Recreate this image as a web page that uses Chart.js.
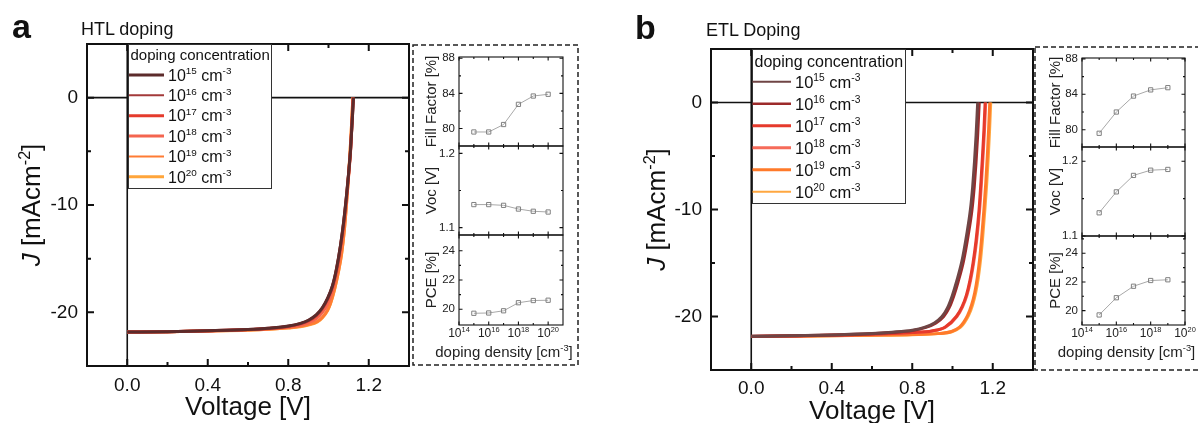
<!DOCTYPE html>
<html lang="en">
<head>
<meta charset="UTF-8">
<title>HTL / ETL doping J-V curves</title>
<script src="https://cdn.jsdelivr.net/npm/chart.js"></script>
<style>
  body { margin: 0; background: #fff; }
  #fig { position: relative; width: 1198px; height: 423px; overflow: hidden; background: #fff; }
  #fig canvas { position: absolute; }
  .letter { position: absolute; font: bold 34px 'Liberation Sans', Arial, sans-serif; line-height: 34px; color: #111; }
  .head { position: absolute; font: 18px 'Liberation Sans', Arial, sans-serif; line-height: 18px; color: #111; white-space: nowrap; }
</style>
</head>
<body>
<div id="fig">
  <canvas id="jvHtl" width="420" height="423" style="left:0;top:0"></canvas>
  <canvas id="ffHtl" width="170" height="325" style="left:411px;top:43px"></canvas>
  <canvas id="vocHtl" width="170" height="325" style="left:411px;top:43px"></canvas>
  <canvas id="pceHtl" width="170" height="325" style="left:411px;top:43px"></canvas>

  <canvas id="jvEtl" width="420" height="427" style="left:620px;top:0"></canvas>
  <canvas id="ffEtl" width="166" height="328" style="left:1032px;top:45px"></canvas>
  <canvas id="vocEtl" width="166" height="328" style="left:1032px;top:45px"></canvas>
  <canvas id="pceEtl" width="166" height="328" style="left:1032px;top:45px"></canvas>

  <div class="letter" style="left:12px;top:9px">a</div>
  <div class="head" style="left:81px;top:20px">HTL doping</div>
  <div class="letter" style="left:635px;top:10px">b</div>
  <div class="head" style="left:706px;top:21px">ETL Doping</div>
</div>

<script>
// doping levels (exponent of cm^-3)
const dopingExp = [15, 16, 17, 18, 19, 20];

// axis ticks of the J-V plots
const voltTicks = [0, 0.4, 0.8, 1.2];
const voltMinor = [0.2, 0.6, 1.0];
const currentTicks = [0, -10, -20];
const currentMinor = [-5, -15];

// J-V curves, HTL doping: [voltage V, current density mA/cm2]
const htl15 = [[0,-21.84],[0.2,-21.8],[0.4,-21.72],[0.6,-21.6],[0.7,-21.48],[0.8,-21.28],[0.86,-21.03],[0.9,-20.74],[0.94,-20.22],[0.97,-19.55],[0.995,-18.7],[1.02,-17.5],[1.04,-15.9],[1.06,-13.7],[1.075,-11.6],[1.09,-9.0],[1.1,-7.0],[1.11,-4.7],[1.124,0]];
const htl16 = [[0,-21.84],[0.2,-21.8],[0.4,-21.72],[0.6,-21.61],[0.7,-21.49],[0.8,-21.29],[0.86,-21.05],[0.9,-20.76],[0.94,-20.25],[0.97,-19.58],[0.995,-18.74],[1.02,-17.55],[1.04,-15.95],[1.06,-13.75],[1.075,-11.65],[1.09,-9.05],[1.1,-7.05],[1.11,-4.75],[1.124,0]];
const htl17 = [[0,-21.84],[0.2,-21.8],[0.4,-21.72],[0.6,-21.61],[0.7,-21.5],[0.8,-21.31],[0.86,-21.08],[0.9,-20.8],[0.94,-20.3],[0.97,-19.64],[0.995,-18.82],[1.02,-17.62],[1.04,-16.05],[1.06,-13.85],[1.075,-11.75],[1.09,-9.15],[1.1,-7.1],[1.11,-4.8],[1.123,0]];
const htl18 = [[0,-21.84],[0.2,-21.8],[0.4,-21.73],[0.6,-21.63],[0.7,-21.53],[0.8,-21.37],[0.86,-21.2],[0.9,-20.97],[0.94,-20.58],[0.97,-20.0],[0.995,-19.25],[1.02,-17.95],[1.04,-16.4],[1.06,-14.2],[1.075,-12.1],[1.09,-9.4],[1.1,-7.3],[1.11,-4.9],[1.122,0]];
const htl19 = [[0,-21.84],[0.2,-21.8],[0.4,-21.74],[0.6,-21.65],[0.7,-21.57],[0.8,-21.44],[0.86,-21.31],[0.9,-21.14],[0.945,-20.84],[0.97,-20.45],[0.995,-19.8],[1.01,-19.15],[1.03,-17.85],[1.05,-16.15],[1.065,-14.55],[1.079,-12.3],[1.088,-10.3],[1.097,-8.0],[1.105,-5.7],[1.113,-3.1],[1.121,0]];
const htl20 = [[0,-21.84],[0.2,-21.8],[0.4,-21.74],[0.6,-21.66],[0.7,-21.58],[0.8,-21.46],[0.86,-21.34],[0.9,-21.18],[0.945,-20.9],[0.97,-20.5],[0.995,-19.85],[1.01,-19.2],[1.03,-17.9],[1.05,-16.2],[1.065,-14.6],[1.079,-12.3],[1.088,-10.3],[1.097,-8.0],[1.105,-5.7],[1.113,-3.1],[1.121,0]];

// J-V curves, ETL doping
const etl15 = [[0,-21.85],[0.2,-21.8],[0.4,-21.72],[0.6,-21.6],[0.7,-21.47],[0.8,-21.28],[0.86,-21.02],[0.91,-20.6],[0.948,-20.0],[0.975,-19.2],[0.998,-18.1],[1.02,-16.75],[1.047,-14.8],[1.07,-12.4],[1.089,-10.0],[1.1,-7.9],[1.109,-5.6],[1.117,-3.1],[1.125,0]];
const etl16 = [[0,-21.85],[0.2,-21.8],[0.4,-21.73],[0.6,-21.61],[0.7,-21.5],[0.8,-21.32],[0.868,-21.02],[0.918,-20.6],[0.956,-20.0],[0.983,-19.2],[1.006,-18.1],[1.028,-16.75],[1.055,-14.8],[1.078,-12.4],[1.097,-10.0],[1.108,-7.9],[1.117,-5.6],[1.125,-3.1],[1.133,0]];
const etl17 = [[0,-21.86],[0.2,-21.82],[0.4,-21.75],[0.6,-21.66],[0.7,-21.59],[0.8,-21.49],[0.897,-21.35],[0.962,-21.0],[1.019,-20.0],[1.047,-19.1],[1.069,-18.0],[1.087,-16.6],[1.102,-15.0],[1.117,-12.9],[1.132,-10.0],[1.141,-7.5],[1.149,-5.0],[1.156,-2.6],[1.162,0]];
const etl18 = [[0,-21.86],[0.2,-21.82],[0.4,-21.76],[0.6,-21.67],[0.7,-21.6],[0.8,-21.5],[0.9,-21.35],[0.965,-21.0],[1.022,-20.0],[1.05,-19.1],[1.072,-18.0],[1.09,-16.6],[1.105,-15.0],[1.12,-12.9],[1.135,-10.0],[1.144,-7.5],[1.152,-5.0],[1.159,-2.6],[1.165,0]];
const etl19 = [[0,-21.87],[0.2,-21.84],[0.4,-21.8],[0.6,-21.75],[0.8,-21.69],[0.925,-21.6],[0.995,-21.4],[1.035,-21.0],[1.055,-20.55],[1.075,-19.9],[1.095,-18.9],[1.11,-17.8],[1.123,-16.4],[1.135,-14.6],[1.145,-12.6],[1.156,-10.0],[1.165,-7.6],[1.173,-5.0],[1.179,-2.7],[1.185,0]];
const etl20 = [[0,-21.87],[0.2,-21.84],[0.4,-21.8],[0.6,-21.76],[0.8,-21.7],[0.93,-21.6],[1.0,-21.4],[1.04,-21.0],[1.06,-20.55],[1.08,-19.9],[1.1,-18.9],[1.115,-17.8],[1.128,-16.4],[1.14,-14.6],[1.15,-12.6],[1.161,-10.0],[1.17,-7.6],[1.178,-5.0],[1.184,-2.7],[1.19,0]];

// device parameters vs doping density
const htlInsetExp = [15, 16, 17, 18, 19, 20];
const htlFF = [79.6, 79.6, 80.45, 82.75, 83.7, 83.9];
const htlVoc = [1.131, 1.131, 1.130, 1.125, 1.122, 1.121];
const htlPCE = [19.73, 19.75, 19.9, 20.45, 20.6, 20.62];
const etlInsetExp = [15, 16, 17, 18, 19];
const etlFF = [79.6, 82.0, 83.8, 84.5, 84.75];
const etlVoc = [1.131, 1.159, 1.181, 1.188, 1.189];
const etlPCE = [19.7, 20.9, 21.7, 22.1, 22.15];

// series colours and legend line widths
const htlColors = ['#5c2b2b', '#a33a3a', '#e53b2c', '#f4654f', '#ff7c34', '#ffa53a'];
const htlWidths = [3, 2, 3, 3, 2, 3];
const etlColors = ['#6f4545', '#9c2a2a', '#e63a2c', '#f66b5a', '#ff7a2a', '#ffa740'];
const etlWidths = [2, 2.5, 3, 3, 3, 2];

const FONT = "'Liberation Sans', Arial, sans-serif";
Chart.defaults.font.family = FONT;
Chart.defaults.color = '#111';

// text with superscript ('s') and italic ('i') runs, y is the baseline
function richText(ctx, parts, x, y, size, align) {
  const fontFor = k => (k === 'i' ? 'italic ' : '') + (k === 's' ? size * 0.62 : size) + 'px ' + FONT;
  let w = 0;
  parts.forEach(([t, k]) => { ctx.font = fontFor(k); w += ctx.measureText(t).width; });
  let cx = align === 'center' ? x - w / 2 : (align === 'right' ? x - w : x);
  ctx.textAlign = 'left';
  ctx.textBaseline = 'alphabetic';
  parts.forEach(([t, k]) => {
    ctx.font = fontFor(k);
    ctx.fillText(t, cx, k === 's' ? y - size * 0.4 : y);
    cx += ctx.measureText(t).width;
  });
}

function strokeLines(ctx, segs) {
  ctx.beginPath();
  segs.forEach(([x1, y1, x2, y2]) => { ctx.moveTo(x1, y1); ctx.lineTo(x2, y2); });
  ctx.stroke();
}

// box around the plot area with inward ticks on all four sides
function frameWithTicks(chart, t) {
  const { ctx, chartArea: a, scales: { x, y } } = chart;
  const segs = [];
  const addX = (vals, len) => vals.forEach(v => {
    const p = x.getPixelForValue(v);
    segs.push([p, a.bottom, p, a.bottom - len], [p, a.top, p, a.top + len]);
  });
  const addY = (vals, len) => vals.forEach(v => {
    const p = y.getPixelForValue(v);
    segs.push([a.left, p, a.left + len, p], [a.right, p, a.right - len, p]);
  });
  addX(t.xMajor, t.major); addX(t.xMinor, t.minor);
  addY(t.yMajor, t.major); addY(t.yMinor, t.minor);
  ctx.save();
  ctx.strokeStyle = '#111';
  ctx.lineWidth = t.width;
  strokeLines(ctx, segs);
  ctx.strokeRect(a.left, a.top, a.right - a.left, a.bottom - a.top);
  ctx.restore();
}

function drawLegend(ctx, L, colors, widths) {
  ctx.save();
  ctx.fillStyle = '#fff';
  ctx.fillRect(L.x, L.y, L.w, L.h);
  ctx.strokeStyle = '#333';
  ctx.lineWidth = 1;
  ctx.strokeRect(L.x + 0.5, L.y + 0.5, L.w, L.h);
  ctx.fillStyle = '#111';
  richText(ctx, [['doping concentration', '']], L.titleX, L.titleY + L.titleSize * 0.36, L.titleSize, 'left');
  dopingExp.forEach((e, i) => {
    const cy = L.rowY + i * L.rowStep;
    ctx.strokeStyle = colors[i];
    ctx.lineWidth = widths[i];
    strokeLines(ctx, [[L.sx0, cy, L.sx1, cy]]);
    richText(ctx, [['10', ''], [String(e), 's'], [' cm', ''], ['-3', 's']], L.textX, cy + L.size * 0.36, L.size, 'left');
  });
  ctx.restore();
}

function jvDeco(cfg) {
  return {
    id: 'jvDeco',
    beforeDatasetsDraw(chart) {
      const { ctx, chartArea: a, scales: { x, y } } = chart;
      const x0 = x.getPixelForValue(0), y0 = y.getPixelForValue(0);
      ctx.save();
      ctx.strokeStyle = '#111';
      ctx.lineWidth = 1.6;
      strokeLines(ctx, [[x0, a.top, x0, a.bottom], [a.left, y0, a.right, y0]]);
      ctx.restore();
    },
    afterDatasetsDraw(chart) {
      frameWithTicks(chart, { xMajor: voltTicks, xMinor: voltMinor, yMajor: currentTicks, yMinor: currentMinor, major: 7, minor: 4, width: 2 });
    },
    afterDraw(chart) {
      const { ctx, chartArea: a } = chart;
      ctx.save();
      ctx.fillStyle = '#111';
      ctx.translate(cfg.titleX, (a.top + a.bottom) / 2);
      ctx.rotate(-Math.PI / 2);
      richText(ctx, [['J', 'i'], [' [mAcm', ''], ['-2', 's'], [']', '']], 0, 26 * 0.36, 26, 'center');
      ctx.restore();
      drawLegend(ctx, cfg.legend, cfg.colors, cfg.widths);
    }
  };
}

function jvChart(canvasId, curves, colors, widths, box) {
  return new Chart(document.getElementById(canvasId), {
    type: 'line',
    data: {
      datasets: curves.map((pts, i) => ({
        label: '10^' + dopingExp[i],
        data: pts.map(([v, j]) => ({ x: v, y: j })),
        borderColor: colors[i],
        borderWidth: 3,
        pointRadius: 0,
        cubicInterpolationMode: 'monotone',
        fill: false
      }))
    },
    options: {
      responsive: false,
      animation: false,
      events: [],
      layout: { padding: { top: box.top, right: box.right, left: 0, bottom: 0 } },
      plugins: { legend: { display: false }, tooltip: { enabled: false } },
      scales: {
        x: {
          type: 'linear', min: -0.2, max: 1.4,
          afterBuildTicks: s => { s.ticks = voltTicks.map(v => ({ value: v })); },
          afterFit: s => { s.height = box.axisH; },
          grid: { display: false, drawTicks: false },
          border: { display: false },
          ticks: { font: { size: 19 }, padding: box.xPad, maxRotation: 0, autoSkip: false, callback: v => v.toFixed(1) },
          title: { display: true, text: 'Voltage [V]', font: { size: 26 }, padding: 0 }
        },
        y: {
          type: 'linear', min: -25, max: 5,
          afterBuildTicks: s => { s.ticks = currentTicks.map(v => ({ value: v })); },
          afterFit: s => { s.width = box.left; },
          grid: { display: false, drawTicks: false },
          border: { display: false },
          ticks: { font: { size: 19 }, padding: 9, autoSkip: false, callback: v => String(v) }
        }
      }
    },
    plugins: [jvDeco({ titleX: box.titleX, legend: box.legend, colors, widths })]
  });
}

// small stacked panels: FF, Voc, PCE
const insetXTicks = [14, 16, 18, 20];
const insetXMinor = [15, 17, 19];

function insetDeco(spec, geo, last) {
  return {
    id: 'insetDeco',
    afterDatasetsDraw(chart) {
      frameWithTicks(chart, { xMajor: insetXTicks, xMinor: insetXMinor, yMajor: spec.major, yMinor: spec.minor, major: 3.5, minor: 2, width: 1.1 });
    },
    afterDraw(chart) {
      const { ctx, chartArea: a, scales: { x } } = chart;
      ctx.save();
      ctx.fillStyle = '#222';
      ctx.translate(geo.titleX, (a.top + a.bottom) / 2);
      ctx.rotate(-Math.PI / 2);
      richText(ctx, [[spec.title, '']], 0, 15 * 0.36, 15, 'center');
      ctx.restore();
      if (!last) return;
      ctx.save();
      ctx.fillStyle = '#222';
      insetXTicks.forEach(e => {
        if (e <= geo.xMax) richText(ctx, [['10', ''], [String(e), 's']], x.getPixelForValue(e), a.bottom + 11.5, 12, 'center');
      });
      richText(ctx, [['doping density [cm', ''], ['-3', 's'], [']', '']], (a.left + a.right) / 2 - 7, a.bottom + 32, 15, 'center');
      ctx.strokeStyle = '#222';
      ctx.lineWidth = 1.5;
      ctx.setLineDash([5, 3]);
      const [dx0, dy0, dx1, dy1] = geo.dash;
      ctx.strokeRect(dx0, dy0, dx1 - dx0, dy1 - dy0);
      ctx.restore();
    }
  };
}

function insetChart(canvasId, exps, values, spec, geo, slot) {
  const last = slot === 2;
  const [top, bottom] = geo.rows[slot];
  return new Chart(document.getElementById(canvasId), {
    type: 'line',
    data: {
      datasets: [{
        data: exps.map((e, i) => ({ x: e, y: values[i] })),
        borderColor: '#a8a8a8',
        borderWidth: 1,
        pointStyle: 'rect',
        pointRadius: 3,
        pointBorderWidth: 1,
        pointBorderColor: '#808080',
        pointBackgroundColor: 'rgba(255,255,255,0)',
        fill: false
      }]
    },
    options: {
      responsive: false,
      animation: false,
      events: [],
      layout: { padding: { top: top, right: geo.right, left: 0, bottom: 0 } },
      plugins: { legend: { display: false }, tooltip: { enabled: false } },
      scales: {
        x: {
          type: 'linear', min: 14, max: geo.xMax,
          afterFit: s => { s.height = geo.height - bottom; },
          grid: { display: false, drawTicks: false },
          border: { display: false },
          ticks: { display: false }
        },
        y: {
          type: 'linear', min: spec.min, max: spec.max,
          afterBuildTicks: s => { s.ticks = spec.major.map(v => ({ value: v })); },
          afterFit: s => { s.width = geo.left; },
          grid: { display: false, drawTicks: false },
          border: { display: false },
          ticks: { font: { size: 11.5 }, color: '#222', padding: 4, autoSkip: false, callback: v => v.toFixed(spec.digits) }
        }
      }
    },
    plugins: [insetDeco(spec, geo, last)]
  });
}

// panel a
jvChart('jvHtl', [htl15, htl16, htl17, htl18, htl19, htl20], htlColors, htlWidths, {
  top: 44, right: 11, left: 87, axisH: 57, xPad: 8, titleX: 31,
  legend: { x: 128, y: 44, w: 143, h: 144, titleX: 130.5, titleY: 54.5, titleSize: 15,
            rowY: 75, rowStep: 20.35, sx0: 129, sx1: 164, textX: 168, size: 16 }
});

const htlGeo = { left: 48, right: 18, height: 325, xMax: 21, titleX: 19.8,
                 rows: [[14, 103], [103, 192], [192, 282]], dash: [2, 2, 167, 322] };
insetChart('ffHtl', htlInsetExp, htlFF, { min: 78, max: 88.15, major: [80, 84, 88], minor: [82, 86], digits: 0, title: 'Fill Factor [%]' }, htlGeo, 0);
insetChart('vocHtl', htlInsetExp, htlVoc, { min: 1.09, max: 1.21, major: [1.1, 1.2], minor: [1.15], digits: 1, title: 'Voc [V]' }, htlGeo, 1);
insetChart('pceHtl', htlInsetExp, htlPCE, { min: 18.93, max: 25.07, major: [20, 22, 24], minor: [21, 23], digits: 0, title: 'PCE [%]' }, htlGeo, 2);

// panel b
jvChart('jvEtl', [etl15, etl16, etl17, etl18, etl19, etl20], etlColors, etlWidths, {
  top: 49, right: 7, left: 91, axisH: 57, xPad: 7, titleX: 36,
  legend: { x: 132, y: 49, w: 153, h: 154, titleX: 134.5, titleY: 61, titleSize: 16,
            rowY: 81.7, rowStep: 22, sx0: 132.5, sx1: 171, textX: 175, size: 16.5 }
});

const etlGeo = { left: 50, right: 13, height: 328, xMax: 20, titleX: 22.5,
                 rows: [[13, 102], [102, 191], [191, 280]], dash: [3, 2, 175, 325] };
insetChart('ffEtl', etlInsetExp, etlFF, { min: 78.05, max: 88.1, major: [80, 84, 88], minor: [82, 86], digits: 0, title: 'Fill Factor [%]' }, etlGeo, 0);
insetChart('vocEtl', etlInsetExp, etlVoc, { min: 1.1, max: 1.219, major: [1.1, 1.2], minor: [1.15], digits: 1, title: 'Voc [V]' }, etlGeo, 1);
insetChart('pceEtl', etlInsetExp, etlPCE, { min: 19.0, max: 25.2, major: [20, 22, 24], minor: [21, 23, 25], digits: 0, title: 'PCE [%]' }, etlGeo, 2);
</script>
</body>
</html>
